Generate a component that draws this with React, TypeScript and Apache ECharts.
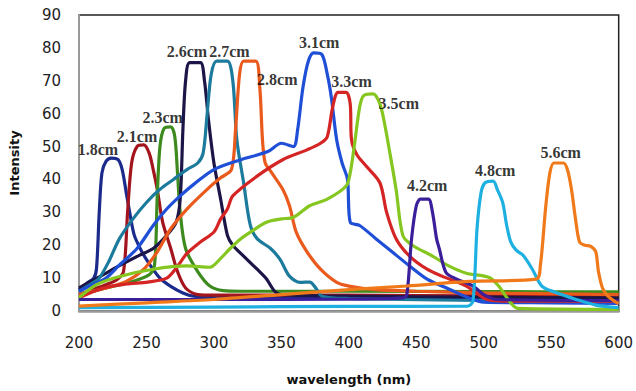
import React, { useEffect, useRef } from "react";
import * as echarts from "echarts";

const seriesNames = ["1.8cm", "2.1cm", "2.3cm", "2.6cm", "2.7cm", "2.8cm", "3.1cm", "3.3cm", "3.5cm", "4.2cm", "4.8cm", "5.6cm"];
const seriesColors = ["#1a2b8c", "#a3151c", "#3d8b1e", "#1c1648", "#1c7a9c", "#ea5a1c", "#1f4fd6", "#d42424", "#86c620", "#3b1f9a", "#1eb0e0", "#f07a1a"];

const s18 = [[200,6.5],[206,8.5],[211,10],[213,13],[215,30],[217,42],[220,45.5],[224,46.5],[229,46],[232,43],[235,36],[238,29],[241,23],[246,18.5],[251,15],[260,10],[268,7.5],[277,5.5],[285,4.5],[300,4.3],[400,4],[500,3.8],[600,3.5]];
const s21 = [[200,5],[210,6.5],[220,8],[228,9.5],[233,12],[236,30],[239,45],[243,50],[248,50.5],[252,48],[255,43],[258,37],[262,27],[268,19],[273,12],[279,7],[288,5],[300,4.8],[400,4.8],[500,4.6],[600,4.5]];
const s23 = [[200,5],[220,7],[240,9],[252,11],[256,14],[258,35],[260,50],[263,55.5],[268,56],[271,53],[273,42],[275,30],[279,19],[288,12],[297,7.6],[307,6.2],[320,6],[400,6],[500,5.9],[600,5.8]];
const s26 = [[200,7],[216,10.6],[231,14],[245,17],[255,19],[265,23],[272,27],[275,34],[277,55],[279,70],[282,75.5],[290,75.5],[293,70],[296,58],[300,45],[305,34],[310,23],[314,20],[322,16.7],[332,12.7],[339,9.7],[345,6],[350,5],[400,4.5],[500,4.2],[600,4]];
const s27 = [[200,6],[210,8.5],[215,10],[222,15],[230,22],[240,28],[250,33],[260,37],[270,40],[280,43],[288,45],[292,48],[295,60],[298,72],[302,76],[310,76],[314,70],[317,52],[322,39],[327,26],[332,22],[342,19],[349,15.7],[356,10.6],[364,8.7],[371,8.8],[376,6.7],[380,4.5],[400,3.8],[500,3.2],[600,3]];
const s28 = [[200,5],[220,7],[235,9],[248,12.7],[258,18],[268,25],[280,31],[295,37],[305,40.5],[313,43],[316,55],[319,72],[322,76],[331,76],[334,68],[336,52],[338,45],[342,42.5],[351,37],[356,32],[361,24],[369,18],[379,12.7],[391,8.7],[401,7.5],[420,6.5],[450,6],[500,5.5],[600,5]];
const s31 = [[200,6],[210,8],[220,10],[230,14],[243,19],[255,26],[265,31],[275,35],[285,38.5],[300,43],[320,46],[340,48.5],[350,51],[359,50],[362,55],[366,68],[370,76],[374,78.5],[380,78],[384,72],[387,65],[391,52],[395,45],[399,40],[401,27],[408,26],[420,22],[432,18],[445,13.7],[458,9.7],[474,6.7],[490,3.8],[500,2.7],[550,2.5],[600,2.3]];
const s33 = [[200,4],[218,7],[235,8.2],[251,8.8],[265,10],[272,13],[280,17.5],[290,21],[300,24],[305,28],[310,31],[314,35],[332,41],[351,46],[369,49],[379,51],[384,53],[388,62],[392,66.5],[398,66.5],[401,63],[402,52],[406,47.5],[413,44],[423,39],[428,30],[435,22],[445,16.7],[458,12.7],[469,10.6],[487,7.6],[502,3.6],[520,3],[600,3]];
const s35 = [[200,4],[213,8],[230,10.5],[255,12.7],[280,13.7],[297,13.3],[305,16],[312,19],[320,22],[327,24],[339,27],[350,28],[359,28.5],[371,32],[384,34],[398,38],[401,42],[404,50],[408,62],[411,65.5],[418,66],[422,64],[425,60],[430,49],[435,37],[440,23],[447,20],[462,16.7],[474,13.7],[487,11.5],[504,10.2],[511,7.6],[519,3],[525,0.8],[600,0.5]];
const s42 = [[200,3.5],[300,3.5],[400,3.6],[440,4],[443,5],[446.5,22],[450,32],[453,34],[459,34],[462,30],[465,22],[467,19],[472,11.7],[480,9.7],[492,7.6],[500,5],[510,3.5],[600,3.2]];
const s48 = [[200,1],[300,1.2],[400,1.4],[488,1.5],[492,3],[495,25],[498,36],[501,39],[507,39.5],[510,37],[514,33],[517,26],[520,21],[524,18.5],[529,17],[536,12.7],[543,7.6],[553,5.7],[568,3.6],[583,1.8],[600,1]];
const s56 = [[200,1.5],[250,2.5],[300,3.5],[350,5],[400,6.5],[443,7.6],[489,9],[539,9.7],[542,14],[546,32],[549,42],[552,45],[559,45],[562,43],[565,37],[568,28],[571,21],[575,20],[579,19.7],[583,18],[585,12],[588,7],[592,4.5],[598,2.7],[600,2.3]];
const seriesData = [s18, s21, s23, s26, s27, s28, s31, s33, s35, s42, s48, s56];

const labelX = [214, 243, 262, 280, 311.5, 347, 378, 402, 437, 458, 508.5, 557];
const labelY = [49, 53, 58.8, 78.8, 78.8, 70.3, 81.5, 69.7, 63, 38.2, 42.7, 48.2];

const xMin = 200, xMax = 600, xStep = 50;
const yMin = 0, yMax = 90, yStep = 10;

export default function App() {
  const ref = useRef<HTMLDivElement>(null);
  useEffect(() => {
    const chart = echarts.init(ref.current!, null, { renderer: "svg" });
    const lineSeries = seriesNames.map((name, i) => ({
      name,
      type: "line",
      data: seriesData[i],
      showSymbol: false,
      smooth: 0.3,
      lineStyle: { width: 3.2, color: seriesColors[i] },
      itemStyle: { color: seriesColors[i] },
      z: 2,
    }));
    const labelSeries = {
      type: "scatter",
      name: "labels",
      symbolSize: 0,
      z: 5,
      data: seriesNames.map((n, i) => ({ value: [labelX[i], labelY[i]], name: n })),
      label: {
        show: true,
        position: "inside",
        formatter: (p: any) => p.name,
        color: "#000",
        fontFamily: "Liberation Serif",
        fontWeight: "bold",
        fontSize: 16,
      },
    };
    chart.setOption({
      animation: false,
      backgroundColor: "#fff",
      grid: { left: 78, right: 16, top: 15, bottom: 79, show: true, borderColor: "#222", borderWidth: 1.5, backgroundColor: "transparent" },
      xAxis: {
        type: "value", min: xMin, max: xMax, interval: xStep,
        name: "wavelength (nm)", nameLocation: "middle", nameGap: 62,
        nameTextStyle: { fontFamily: "DejaVu Sans", fontWeight: "bold", fontSize: 13, color: "#111" },
        axisLine: { show: true, lineStyle: { color: "#999", width: 2.5 } },
        axisTick: { show: false },
        splitLine: { show: false },
        axisLabel: { fontFamily: "DejaVu Sans", fontSize: 15, color: "#222", margin: 24 },
      },
      yAxis: {
        type: "value", min: yMin, max: yMax, interval: yStep,
        name: "Intensity", nameLocation: "middle", nameGap: 58,
        nameTextStyle: { fontFamily: "DejaVu Sans", fontWeight: "bold", fontSize: 13, color: "#111" },
        axisLine: { show: true, lineStyle: { color: "#999", width: 2 } },
        axisTick: { show: false },
        splitLine: { show: false },
        axisLabel: { fontFamily: "DejaVu Sans", fontSize: 15, color: "#222", margin: 18 },
      },
      series: [...lineSeries, labelSeries],
    });
    return () => chart.dispose();
  }, []);
  return <div ref={ref} style={{ position: "fixed", left: 0, top: 0, width: 636, height: 391 }} />;
}
